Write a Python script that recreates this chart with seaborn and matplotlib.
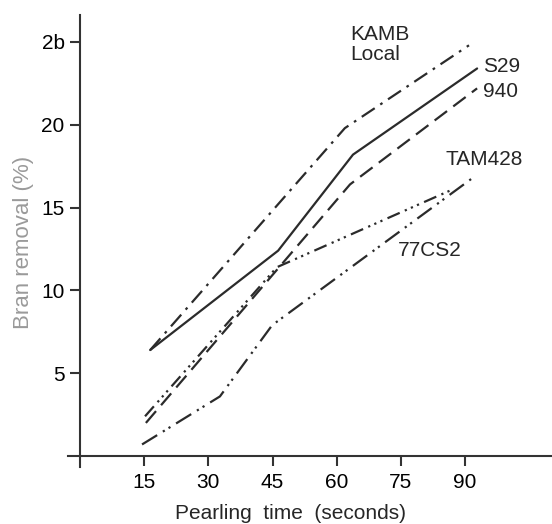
import pandas as pd
import matplotlib.pyplot as plt
import seaborn as sns

# values (line vertices)
kamb_x = [16.4, 61.9, 90.9]
kamb_y = [6.4, 19.8, 24.8]
s29_x = [16.4, 46.3, 63.8, 92.8]
s29_y = [6.4, 12.4, 18.2, 23.4]
v940_x = [15.4, 63.1, 92.8]
v940_y = [2.0, 16.4, 22.2]
tam_x = [15.2, 46.0, 87.1]
tam_y = [2.4, 11.4, 16.1]
cs2_x = [14.5, 32.7, 44.9, 91.8]
cs2_y = [0.7, 3.6, 7.9, 16.8]

x_ticks = [15, 30, 45, 60, 75, 90]
y_ticks = [5, 10, 15, 20, 25]
y_tick_labels = ["5", "10", "15", "20", "2b"]

series = {
    "KAMB Local": (kamb_x, kamb_y),
    "S29": (s29_x, s29_y),
    "940": (v940_x, v940_y),
    "TAM428": (tam_x, tam_y),
    "77CS2": (cs2_x, cs2_y),
}
rows = []
for name, (xs, ys) in series.items():
    for x, y in zip(xs, ys):
        rows.append({"variety": name, "time": x, "bran": y})
df = pd.DataFrame(rows)

sns.set_style("ticks")
plt.rcParams["font.family"] = ["Liberation Sans", "DejaVu Sans"]

fig = plt.figure(figsize=(5.52, 5.24), dpi=100)
ax = fig.add_axes([0.1232, 0.1088, 0.8768, 0.8626])

dashes = {
    "KAMB Local": (7, 3, 1.2, 3),
    "S29": "",
    "940": (7, 3.5),
    "TAM428": (6, 2.5, 1, 2, 1, 2, 1, 2.5),
    "77CS2": (8, 3, 1, 2, 1, 3),
}
sns.lineplot(data=df, x="time", y="bran", style="variety", dashes=dashes,
             color="#2b2b2b", linewidth=1.6, sort=False, legend=False, ax=ax)

ax.set_xlim(-2.8, 110.3)
ax.set_ylim(-0.66, 26.63)
for side in ["top", "right"]:
    ax.spines[side].set_visible(False)
ax.spines["left"].set_position(("data", 0))
ax.spines["bottom"].set_position(("data", 0))
for side in ["left", "bottom"]:
    ax.spines[side].set_color("#333333")
    ax.spines[side].set_linewidth(1.5)

ax.set_xticks(x_ticks)
ax.set_xticklabels([str(t) for t in x_ticks])
ax.set_yticks(y_ticks)
ax.set_yticklabels(y_tick_labels)
ax.tick_params(axis="both", labelsize=15, colors="#333333", labelcolor="black",
               width=1.5, length=7, direction="out")
ax.tick_params(axis="y", pad=4)
ax.tick_params(axis="x", pad=5)

ax.set_xlabel("Pearling  time  (seconds)", fontsize=15)
ax.xaxis.set_label_coords(0.459, -0.102)
ax.xaxis.label.set_va("center")
ax.set_ylabel("Bran removal (%)", fontsize=16, color="#9a9a9a")
ax.yaxis.set_label_coords(-0.091, 0.496)
ax.yaxis.label.set_va("center")

ax.text(63.1, 26.0, "KAMB\nLocal", fontsize=15, va="top", ha="left", linespacing=1.05)
ax.text(94.2, 23.5, "S29", fontsize=15, va="center", ha="left")
ax.text(94.2, 22.0, "940", fontsize=15, va="center", ha="left")
ax.text(85.3, 17.9, "TAM428", fontsize=15, va="center", ha="left")
ax.text(74.3, 12.4, "77CS2", fontsize=15, va="center", ha="left")

fig.savefig("out.png", dpi=100)
